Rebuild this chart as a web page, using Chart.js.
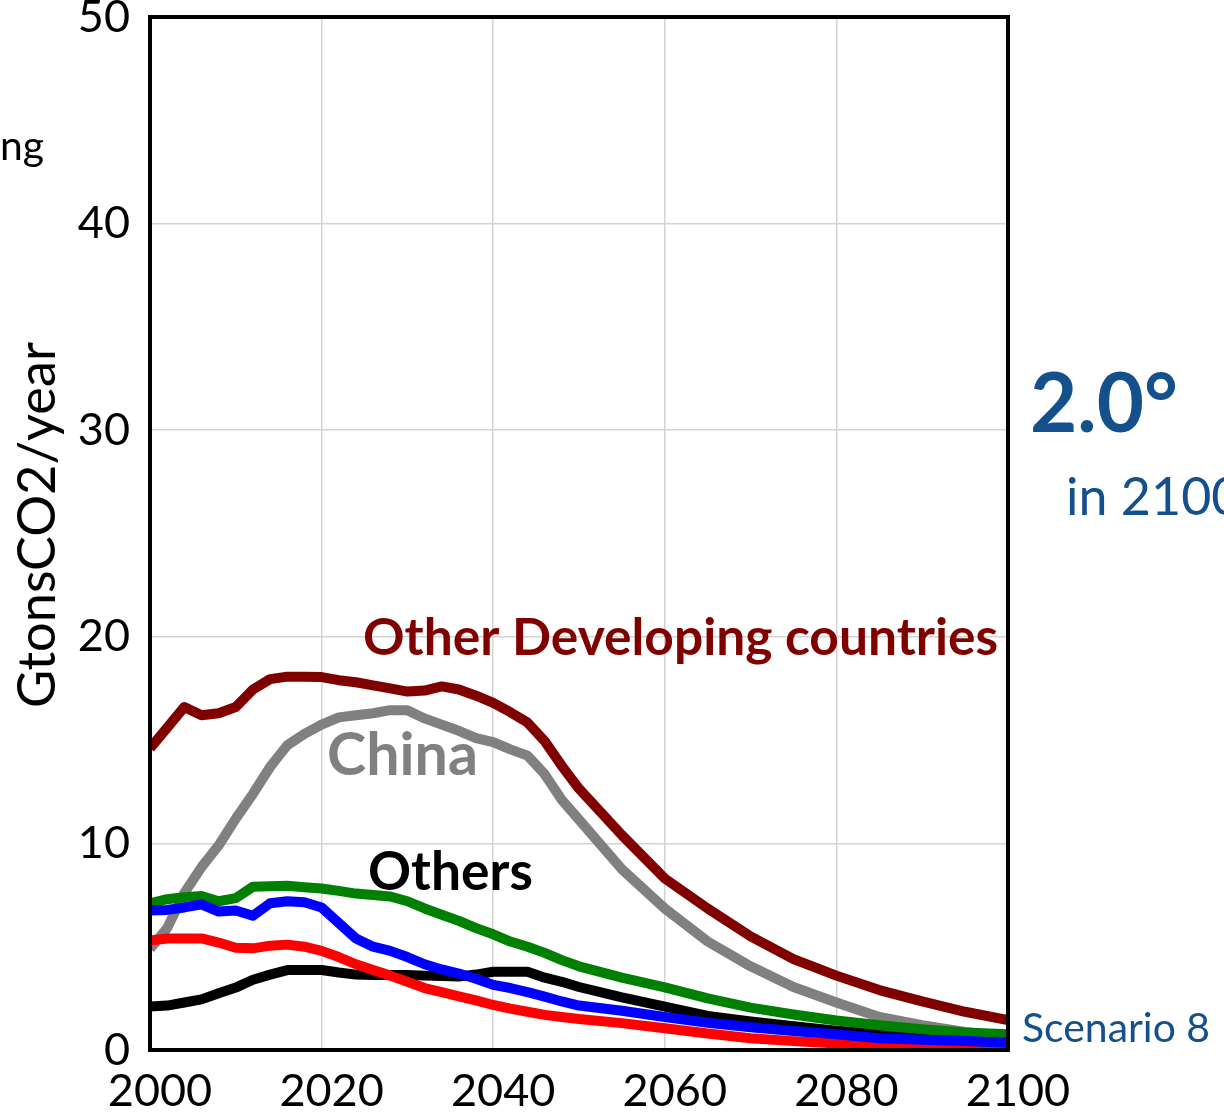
<!DOCTYPE html>
<html>
<head>
<meta charset="utf-8">
<script src="https://cdn.jsdelivr.net/npm/chart.js@4.4.1/dist/chart.umd.min.js"></script>
<style>
  html, body { margin: 0; padding: 0; background: #fff; }
  #wrap { width: 1224px; height: 1112px; }
</style>
</head>
<body>
<div id="wrap"><canvas id="chart" width="1224" height="1112"></canvas></div>
<script>
// Data
const years = [2000, 2002, 2004, 2006, 2008, 2010, 2012, 2014, 2016, 2018, 2020, 2022, 2024, 2026, 2028, 2030,
  2032, 2034, 2036, 2038, 2040, 2042, 2044, 2046, 2048, 2050,
  2055, 2060, 2065, 2070, 2075, 2080, 2085, 2090, 2095, 2100];

const otherDeveloping = [14.6, 15.6, 16.6, 16.2, 16.3, 16.6, 17.45, 17.95, 18.07, 18.07, 18.05, 17.9, 17.8, 17.65, 17.5, 17.35,
  17.4, 17.6, 17.45, 17.15, 16.8, 16.35, 15.85, 14.95, 13.75, 12.65,
  10.4, 8.3, 6.85, 5.5, 4.4, 3.6, 2.9, 2.35, 1.85, 1.45];
const china = [4.9, 5.9, 7.6, 8.85, 9.9, 11.2, 12.4, 13.7, 14.75, 15.3, 15.75, 16.1, 16.2, 16.3, 16.45, 16.45,
  16.05, 15.75, 15.45, 15.1, 14.9, 14.55, 14.25, 13.35, 12.1, 11.15,
  8.75, 6.85, 5.25, 4.05, 3.05, 2.3, 1.6, 1.2, 0.87, 0.65];
const greenSeries = [7.1, 7.3, 7.4, 7.45, 7.2, 7.35, 7.9, 7.93, 7.95, 7.88, 7.82, 7.7, 7.57, 7.5, 7.43, 7.2,
  6.85, 6.55, 6.25, 5.9, 5.6, 5.25, 5.0, 4.7, 4.35, 4.05,
  3.5, 3.03, 2.5, 2.05, 1.72, 1.43, 1.2, 1.0, 0.85, 0.76];
const blueSeries = [6.75, 6.78, 6.9, 7.05, 6.7, 6.75, 6.5, 7.1, 7.2, 7.15, 6.9, 6.15, 5.4, 5.0, 4.8, 4.5,
  4.15, 3.9, 3.7, 3.45, 3.15, 3.0, 2.8, 2.58, 2.35, 2.15,
  1.9, 1.6, 1.32, 1.1, 0.92, 0.76, 0.57, 0.5, 0.43, 0.35];
const redSeries = [5.3, 5.4, 5.4, 5.4, 5.2, 4.95, 4.92, 5.05, 5.1, 5.0, 4.8, 4.5, 4.15, 3.87, 3.6, 3.3,
  3.0, 2.8, 2.6, 2.4, 2.18, 2.0, 1.85, 1.7, 1.6, 1.5,
  1.3, 1.05, 0.8, 0.57, 0.43, 0.32, 0.22, 0.14, 0.08, 0.03];
const others = [2.1, 2.15, 2.3, 2.45, 2.75, 3.02, 3.4, 3.65, 3.87, 3.87, 3.87, 3.75, 3.65, 3.63, 3.63, 3.63,
  3.6, 3.58, 3.56, 3.65, 3.79, 3.79, 3.79, 3.5, 3.3, 3.05,
  2.55, 2.1, 1.65, 1.38, 1.15, 0.93, 0.78, 0.65, 0.55, 0.45];

const xTicks = [2000, 2020, 2040, 2060, 2080, 2100];
const yTicks = [0, 10, 20, 30, 40, 50];

const FONT = 'Lato, "Open Sans", sans-serif';
const TEXT_BLUE = '#14508c';

function pts(vals) {
  return years.map((x, i) => ({ x: x, y: vals[i] }));
}

function series(label, vals, color, order) {
  return {
    label: label,
    data: pts(vals),
    borderColor: color,
    backgroundColor: color,
    borderWidth: 10,
    pointRadius: 0,
    tension: 0,
    fill: false,
    borderJoinStyle: 'round',
    order: order
  };
}

// draw text scaled so it fills a given width
function fitText(ctx, txt, weight, size, targetW, x, y, color, align) {
  ctx.font = weight + ' ' + size + 'px ' + FONT;
  const w = ctx.measureText(txt).width;
  const s = size * targetW / w;
  ctx.font = weight + ' ' + s.toFixed(1) + 'px ' + FONT;
  ctx.fillStyle = color;
  ctx.textAlign = align || 'left';
  ctx.textBaseline = 'alphabetic';
  ctx.fillText(txt, x, y);
}

// Frame + annotations
const decorations = {
  id: 'decorations',
  afterDatasetsDraw(chart) {
    const ctx = chart.ctx;
    const a = chart.chartArea;
    ctx.save();
    ctx.strokeStyle = '#000';
    ctx.lineWidth = 4;
    ctx.strokeRect(a.left, a.top, a.right - a.left, a.bottom - a.top);

    fitText(ctx, 'Other Developing countries', 'bold', 46, 635, 363, 655, '#800000');
    fitText(ctx, 'China', 'bold', 52, 151, 327, 775, '#808080');
    fitText(ctx, 'Others', 'bold', 48, 165, 368, 890, '#000000');
    ctx.restore();
  },
  afterDraw(chart) {
    const ctx = chart.ctx;
    ctx.save();
    // y axis title
    ctx.translate(55, 525);
    ctx.rotate(-Math.PI / 2);
    fitText(ctx, 'GtonsCO2/year', 'normal', 46, 366, 0, 0, '#000', 'center');
    ctx.restore();

    ctx.save();
    fitText(ctx, 'ng', 'normal', 46, 44, 0, 160, '#000');
    fitText(ctx, '2.0°', 'bold', 88, 148, 1030, 432, TEXT_BLUE);
    ctx.font = 'normal 52px ' + FONT;
    ctx.fillStyle = TEXT_BLUE;
    ctx.textAlign = 'left';
    ctx.fillText('in 2100', 1066, 515);
    fitText(ctx, 'Scenario 8', 'normal', 38, 188, 1022, 1042, TEXT_BLUE);
    ctx.restore();
  }
};

const ctx = document.getElementById('chart').getContext('2d');
new Chart(ctx, {
  type: 'line',
  data: {
    datasets: [
      series('Other Developing countries', otherDeveloping, '#800000', 4),
      series('China', china, '#808080', 5),
      series('Green', greenSeries, '#008000', 1),
      series('Blue', blueSeries, '#0000ff', 0),
      series('Red', redSeries, '#ff0000', 2),
      series('Others', others, '#000000', 3)
    ]
  },
  options: {
    responsive: false,
    animation: false,
    devicePixelRatio: 1,
    layout: { padding: { left: 0, top: 17, right: 216, bottom: 0 } },
    plugins: {
      legend: { display: false },
      tooltip: { enabled: false }
    },
    scales: {
      x: {
        type: 'linear',
        min: xTicks[0],
        max: xTicks[xTicks.length - 1],
        afterBuildTicks: s => { s.ticks = xTicks.map(v => ({ value: v })); },
        afterFit: s => { s.height = 62; s.paddingLeft = 0; s.paddingRight = 0; },
        grid: { color: '#d4d4d4', lineWidth: 1.5, drawTicks: false },
        border: { display: false },
        ticks: {
          font: { family: FONT, size: 45 },
          color: '#000',
          padding: 14,
          labelOffset: 10,
          maxRotation: 0,
          autoSkip: false,
          callback: v => String(v)
        }
      },
      y: {
        min: yTicks[0],
        max: yTicks[yTicks.length - 1],
        afterBuildTicks: s => { s.ticks = yTicks.map(v => ({ value: v })); },
        afterFit: s => { s.width = 150; s.paddingTop = 0; s.paddingBottom = 0; },
        grid: { color: '#d4d4d4', lineWidth: 1.5, drawTicks: false },
        border: { display: false },
        ticks: {
          font: { family: FONT, size: 45 },
          color: '#000',
          padding: 20,
          autoSkip: false
        }
      }
    }
  },
  plugins: [decorations]
});
</script>
</body>
</html>
